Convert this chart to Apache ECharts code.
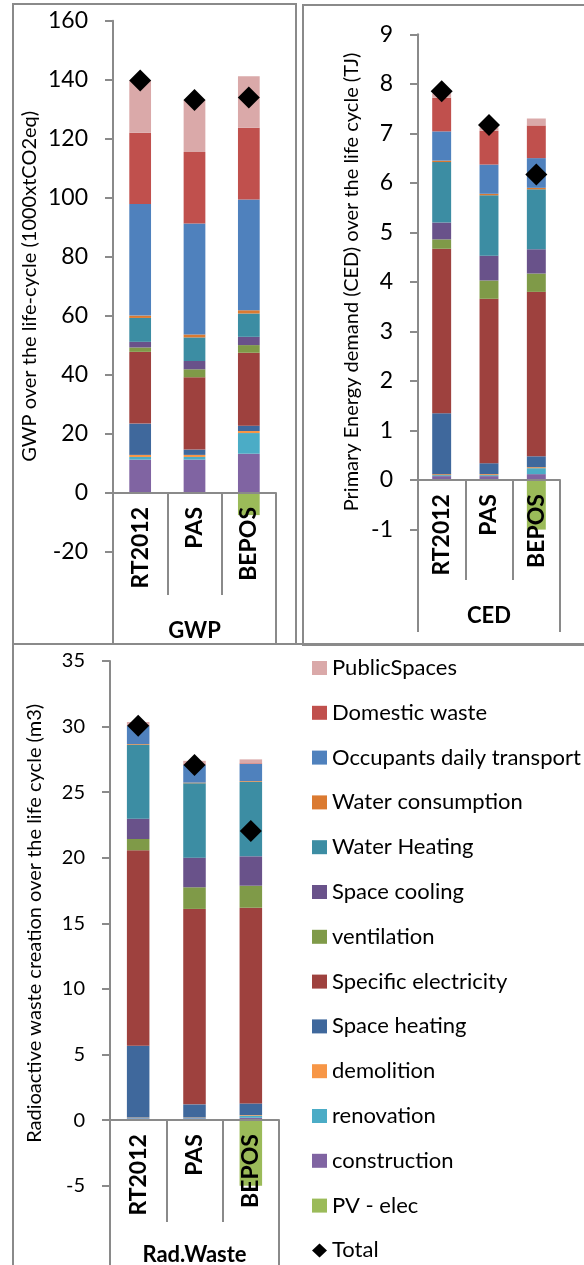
<!DOCTYPE html>
<html><head><meta charset="utf-8">
<script src="https://cdn.jsdelivr.net/npm/echarts@6/dist/echarts.min.js"></script>
<style>html,body{margin:0;padding:0;background:#fff}#c{width:584px;height:1265px}</style>
</head><body><div id="c"></div>
<script>
// ---- data ----
const categories = ['RT2012', 'PAS', 'BEPOS'];
const indicators = ['GWP', 'CED', 'Rad.Waste'];
const components = ['construction', 'renovation', 'demolition', 'Space heating', 'Specific electricity',
  'ventilation', 'Space cooling', 'Water Heating', 'Water consumption', 'Occupants daily transport',
  'Domestic waste', 'PublicSpaces'];
const legendOrder = ['PublicSpaces', 'Domestic waste', 'Occupants daily transport', 'Water consumption',
  'Water Heating', 'Space cooling', 'ventilation', 'Specific electricity', 'Space heating', 'demolition',
  'renovation', 'construction', 'PV - elec', 'Total'];

// values per component (order of `components`)
const gwpRT2012 = [11.3, 0.9, 0.7, 10.6, 24.3, 1.5, 1.9, 8.1, 0.8, 37.8, 24.1, 17.7];
const gwpPAS    = [11.3, 0.9, 0.7, 1.8, 24.5, 2.7, 2.8, 8.0, 1.0, 37.6, 24.2, 17.6];
const gwpBEPOS  = [13.3, 7.0, 0.7, 1.8, 24.7, 2.6, 2.8, 7.9, 1.1, 37.5, 24.3, 17.5];
const gwpPV     = [null, null, -7.5];
const gwpTotal  = [139.7, 133.1, 134.0];

const cedRT2012 = [0.08, 0.02, 0.02, 1.23, 3.32, 0.19, 0.34, 1.22, 0.03, 0.59, 0.68, 0.09];
const cedPAS    = [0.08, 0.02, 0.02, 0.22, 3.32, 0.37, 0.50, 1.22, 0.03, 0.59, 0.68, 0.07];
const cedBEPOS  = [0.12, 0.12, 0.02, 0.22, 3.32, 0.37, 0.49, 1.21, 0.03, 0.60, 0.66, 0.14];
const cedPV     = [null, null, -1.12];
const cedTotal  = [7.85, 7.17, 6.17];

const radRT2012 = [0.13, 0.04, 0.03, 5.47, 14.9, 0.86, 1.55, 5.64, 0.05, 1.38, 0.05, 0.25];
const radPAS    = [0.13, 0.04, 0.03, 1.0, 14.9, 1.65, 2.26, 5.67, 0.05, 1.35, 0.05, 0.26];
const radBEPOS  = [0.18, 0.15, 0.05, 0.89, 14.92, 1.68, 2.24, 5.69, 0.05, 1.3, 0.05, 0.3];
const radPV     = [null, null, -5.1];
const radTotal  = [30.07, 27.07, 22.04];

const yMin = [-20, -1, -5];
const yMax = [160, 9, 35];
const yStep = [20, 1, 5];
const yTitles = ['GWP over the life-cycle (1000xtCO2eq)',
  'Primary Energy demand (CED) over the life cycle (TJ)',
  'Radioactive waste creation over the life cycle (m3)'];

// ---- style ----
const colors = {
  'construction': '#8064A2', 'renovation': '#4BACC6', 'demolition': '#F79646',
  'Space heating': '#3F689C', 'Specific electricity': '#9E413E', 'ventilation': '#7F9A48',
  'Space cooling': '#69528A', 'Water Heating': '#3C8DA3', 'Water consumption': '#DB7A31',
  'Occupants daily transport': '#4F81BD', 'Domestic waste': '#C0504D', 'PublicSpaces': '#DAA9A9',
  'PV - elec': '#9BBB59'
};
const FONT = 'Lato';
const GRAY = '#8a8a8a';
const panels = [
  { rows: [gwpRT2012, gwpPAS, gwpBEPOS], pv: gwpPV, total: gwpTotal },
  { rows: [cedRT2012, cedPAS, cedBEPOS], pv: cedPV, total: cedTotal },
  { rows: [radRT2012, radPAS, radBEPOS], pv: radPV, total: radTotal }
];
const grids = [
  { left: 113, top: 20.7, width: 163, height: 531.3, outerBoundsMode: 'none' },
  { left: 418, top: 34.3, width: 142, height: 495.3, outerBoundsMode: 'none' },
  { left: 110, top: 661, width: 169, height: 524.7, outerBoundsMode: 'none' }
];
const tickFont = [23, 23, 20];
const nameGaps = [73, 56, 65];
const innerTick = [102, 100, 102];
const outerTick = [151, 152, 160];
const outerMargin = [127, 125, 124];

const xAxis = [], yAxis = [], series = [];
grids.forEach((g, i) => {
  // place the category axis on the value 0 line (offset from the grid bottom)
  const zeroOffset = -g.height * (0 - yMin[i]) / (yMax[i] - yMin[i]);
  xAxis.push({
    type: 'category', gridIndex: i, data: categories, position: 'bottom', z: 10, offset: zeroOffset,
    axisLine: { onZero: false, lineStyle: { color: GRAY, width: 2 } },
    axisTick: { show: true, interval: 0, length: innerTick[i], lineStyle: { color: GRAY, width: 2 } },
    axisLabel: { rotate: 90, margin: 14, interval: 0, fontFamily: FONT, fontWeight: 'bold', fontSize: 23, color: '#000' }
  });
  xAxis.push({
    type: 'category', gridIndex: i, data: [indicators[i]], position: 'bottom', z: 10, offset: zeroOffset,
    axisLine: { show: false, onZero: false },
    axisTick: { show: true, interval: 0, length: outerTick[i], lineStyle: { color: GRAY, width: 2 } },
    axisLabel: { margin: outerMargin[i], fontFamily: FONT, fontWeight: 'bold', fontSize: 22, color: '#000' }
  });
  yAxis.push({
    type: 'value', gridIndex: i, min: yMin[i], max: yMax[i], interval: yStep[i],
    name: yTitles[i], nameLocation: 'middle', nameGap: nameGaps[i],
    nameTextStyle: { fontFamily: FONT, fontSize: 20, color: '#000' },
    axisLine: { show: true, lineStyle: { color: GRAY, width: 2 } },
    axisTick: { show: true, length: 8, lineStyle: { color: GRAY, width: 2 } },
    splitLine: { show: false },
    axisLabel: { margin: 25, fontFamily: FONT, fontSize: tickFont[i], color: '#000' }
  });
  const p = panels[i];
  components.forEach((c, k) => {
    series.push({
      name: c, type: 'bar', stack: 'p' + i, xAxisIndex: 2 * i, yAxisIndex: i,
      barWidth: '40%', itemStyle: { color: colors[c] },
      data: p.rows.map(r => r[k])
    });
  });
  series.push({
    name: 'PV - elec', type: 'bar', stack: 'p' + i, xAxisIndex: 2 * i, yAxisIndex: i,
    barWidth: '40%', itemStyle: { color: colors['PV - elec'] }, data: p.pv
  });
  series.push({
    name: 'Total', type: 'scatter', xAxisIndex: 2 * i, yAxisIndex: i, z: 20,
    symbol: 'diamond', symbolSize: 22, itemStyle: { color: '#000', opacity: 1 }, data: p.total
  });
});

const frame = (x, y, w, h) => ({ type: 'rect', shape: { x, y, width: w, height: h },
  style: { fill: 'none', stroke: GRAY, lineWidth: 2 }, silent: true });

const chart = echarts.init(document.getElementById('c'), null, { renderer: 'canvas' });
chart.setOption({
  animation: false,
  backgroundColor: '#fff',
  textStyle: { fontFamily: FONT },
  grid: grids,
  xAxis, yAxis, series,
  legend: {
    orient: 'vertical', left: 312, top: 657, height: 640, padding: 0,
    itemGap: 22.8, itemWidth: 15, itemHeight: 14,
    selectedMode: false,
    textStyle: { fontFamily: FONT, fontSize: 22, lineHeight: 20, color: '#000' },
    data: legendOrder.map(n => n === 'Total'
      ? { name: n, icon: 'diamond', itemStyle: { color: '#000', opacity: 1 } }
      : { name: n, icon: 'rect' })
  },
  graphic: [frame(13, 4, 283, 640), frame(303, 5, 290, 640), frame(13, 644, 580, 630)]
});
</script></body></html>
